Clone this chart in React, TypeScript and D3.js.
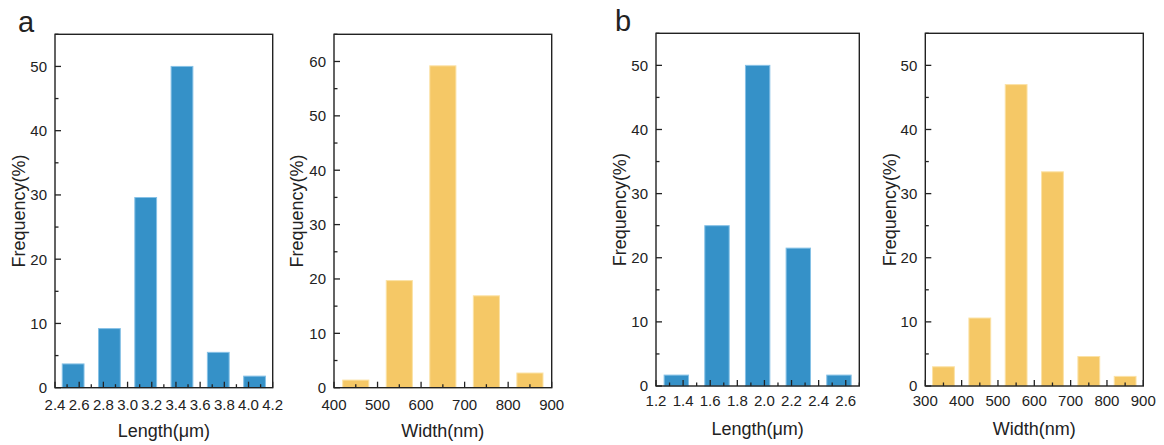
import React from "react";
import * as d3 from "d3";

// ---- data: bin centres and frequency (%) per histogram ----
const lengthACenters = [2.55, 2.85, 3.15, 3.45, 3.75, 4.05];
const lengthAFreq = [3.7, 9.2, 29.6, 50, 5.5, 1.8];

const widthACenters = [450, 550, 650, 750, 850];
const widthAFreq = [1.4, 19.7, 59.2, 16.9, 2.7];

const lengthBCenters = [1.35, 1.65, 1.95, 2.25, 2.55];
const lengthBFreq = [1.7, 25.0, 50, 21.5, 1.7];

const widthBCenters = [350, 450, 550, 650, 750, 850];
const widthBFreq = [3.0, 10.6, 47.0, 33.4, 4.6, 1.5];

// ---- tick labels ----
const lengthATicks = [2.4, 2.6, 2.8, 3.0, 3.2, 3.4, 3.6, 3.8, 4.0, 4.2];
const widthATicks = [400, 500, 600, 700, 800, 900];
const lengthBTicks = [1.2, 1.4, 1.6, 1.8, 2.0, 2.2, 2.4, 2.6];
const widthBTicks = [300, 400, 500, 600, 700, 800, 900];
const freqTicks55 = [0, 10, 20, 30, 40, 50];
const freqTicks65 = [0, 10, 20, 30, 40, 50, 60];

const BLUE = "#3591c8";
const BLUE_EDGE = "#86c1e6";
const YELLOW = "#f5c866";
const YELLOW_EDGE = "#fbe2a6";
const INK = "#222";
const FONT = "'Liberation Sans', Arial, Helvetica, sans-serif";

type PanelProps = {
  left: number;
  right: number;
  top: number;
  bottom: number;
  xDomain: [number, number];
  yMax: number;
  centers: number[];
  values: number[];
  binWidth: number;
  xTicks: number[];
  yTicks: number[];
  decimals: number;
  fill: string;
  edge: string;
  xTitle: string;
  yTitleX: number;
  xLabelBaseline: number;
  xTitleBaseline: number;
};

function Panel(p: PanelProps) {
  const x = d3.scaleLinear().domain(p.xDomain).range([p.left, p.right]);
  const y = d3.scaleLinear().domain([0, p.yMax]).range([p.bottom, p.top]);
  const fmt = d3.format(`.${p.decimals}f`);

  const xStep = p.xTicks[1] - p.xTicks[0];
  const xMinor: number[] = [];
  p.xTicks.forEach((t) => {
    const m = t + xStep / 2;
    if (m <= p.xDomain[1] + 1e-9) xMinor.push(m);
  });
  const yStep = p.yTicks[1] - p.yTicks[0];
  const yMinor: number[] = [];
  p.yTicks.forEach((t) => {
    const m = t + yStep / 2;
    if (m <= p.yMax + 1e-9) yMinor.push(m);
  });

  const barW = p.binWidth * 0.6;
  const major = 6;
  const minor = 3.5;

  return (
    <g>
      {p.centers.map((c, i) => (
        <rect
          key={i}
          x={x(c - barW / 2)}
          y={y(p.values[i])}
          width={x(c + barW / 2) - x(c - barW / 2)}
          height={y(0) - y(p.values[i])}
          fill={p.fill}
          stroke={p.edge}
          strokeWidth={1}
        />
      ))}
      {/* x ticks, pointing inward */}
      {p.xTicks.map((t) => (
        <line key={"xM" + t} x1={x(t)} x2={x(t)} y1={p.bottom} y2={p.bottom - major} stroke={INK} strokeWidth={1.3} />
      ))}
      {xMinor.map((t) => (
        <line key={"xm" + t} x1={x(t)} x2={x(t)} y1={p.bottom} y2={p.bottom - minor} stroke={INK} strokeWidth={1.3} />
      ))}
      {/* y ticks, pointing inward */}
      {p.yTicks.map((t) => (
        <line key={"yM" + t} x1={p.left} x2={p.left + major} y1={y(t)} y2={y(t)} stroke={INK} strokeWidth={1.3} />
      ))}
      {yMinor.map((t) => (
        <line key={"ym" + t} x1={p.left} x2={p.left + minor} y1={y(t)} y2={y(t)} stroke={INK} strokeWidth={1.3} />
      ))}
      <rect
        x={p.left}
        y={p.top}
        width={p.right - p.left}
        height={p.bottom - p.top}
        fill="none"
        stroke={INK}
        strokeWidth={1.4}
      />
      {p.xTicks.map((t) => (
        <text key={"xl" + t} x={x(t)} y={p.xLabelBaseline} textAnchor="middle" fontSize={15} fill={INK}>
          {fmt(t)}
        </text>
      ))}
      {p.yTicks.map((t) => (
        <text key={"yl" + t} x={p.left - 8} y={y(t)} dy="0.36em" textAnchor="end" fontSize={15} fill={INK}>
          {t}
        </text>
      ))}
      <text
        x={(p.left + p.right) / 2}
        y={p.xTitleBaseline}
        textAnchor="middle"
        fontSize={18}
        fill={INK}
      >
        {p.xTitle}
      </text>
      <text
        transform={`translate(${p.yTitleX},${(p.top + p.bottom) / 2}) rotate(-90)`}
        textAnchor="middle"
        fontSize={18}
        fill={INK}
      >
        Frequency(%)
      </text>
    </g>
  );
}

export default function App() {
  return (
    <svg
      width={1164}
      height={445}
      style={{ position: "absolute", left: 0, top: 0, background: "#fff" }}
      fontFamily={FONT}
    >
      <text x={18} y={32} fontSize={29} fill={INK}>a</text>
      <text x={615} y={31} fontSize={29} fill={INK}>b</text>
      <Panel
        left={55} right={272.7} top={34.3} bottom={387.7}
        xDomain={[2.4, 4.2]} yMax={55}
        centers={lengthACenters} values={lengthAFreq} binWidth={0.3}
        xTicks={lengthATicks} yTicks={freqTicks55} decimals={1}
        fill={BLUE} edge={BLUE_EDGE}
        xTitle="Length(μm)" yTitleX={25} xLabelBaseline={410} xTitleBaseline={437}
      />
      <Panel
        left={334} right={551.7} top={34.3} bottom={387.7}
        xDomain={[400, 900]} yMax={65}
        centers={widthACenters} values={widthAFreq} binWidth={100}
        xTicks={widthATicks} yTicks={freqTicks65} decimals={0}
        fill={YELLOW} edge={YELLOW_EDGE}
        xTitle="Width(nm)" yTitleX={303} xLabelBaseline={410} xTitleBaseline={437}
      />
      <Panel
        left={656} right={859.3} top={33.3} bottom={386}
        xDomain={[1.2, 2.7]} yMax={55}
        centers={lengthBCenters} values={lengthBFreq} binWidth={0.3}
        xTicks={lengthBTicks} yTicks={freqTicks55} decimals={1}
        fill={BLUE} edge={BLUE_EDGE}
        xTitle="Length(μm)" yTitleX={626} xLabelBaseline={406} xTitleBaseline={435}
      />
      <Panel
        left={925.3} right={1143.3} top={33.3} bottom={386}
        xDomain={[300, 900]} yMax={55}
        centers={widthBCenters} values={widthBFreq} binWidth={100}
        xTicks={widthBTicks} yTicks={freqTicks55} decimals={0}
        fill={YELLOW} edge={YELLOW_EDGE}
        xTitle="Width(nm)" yTitleX={896} xLabelBaseline={406} xTitleBaseline={435}
      />
    </svg>
  );
}
